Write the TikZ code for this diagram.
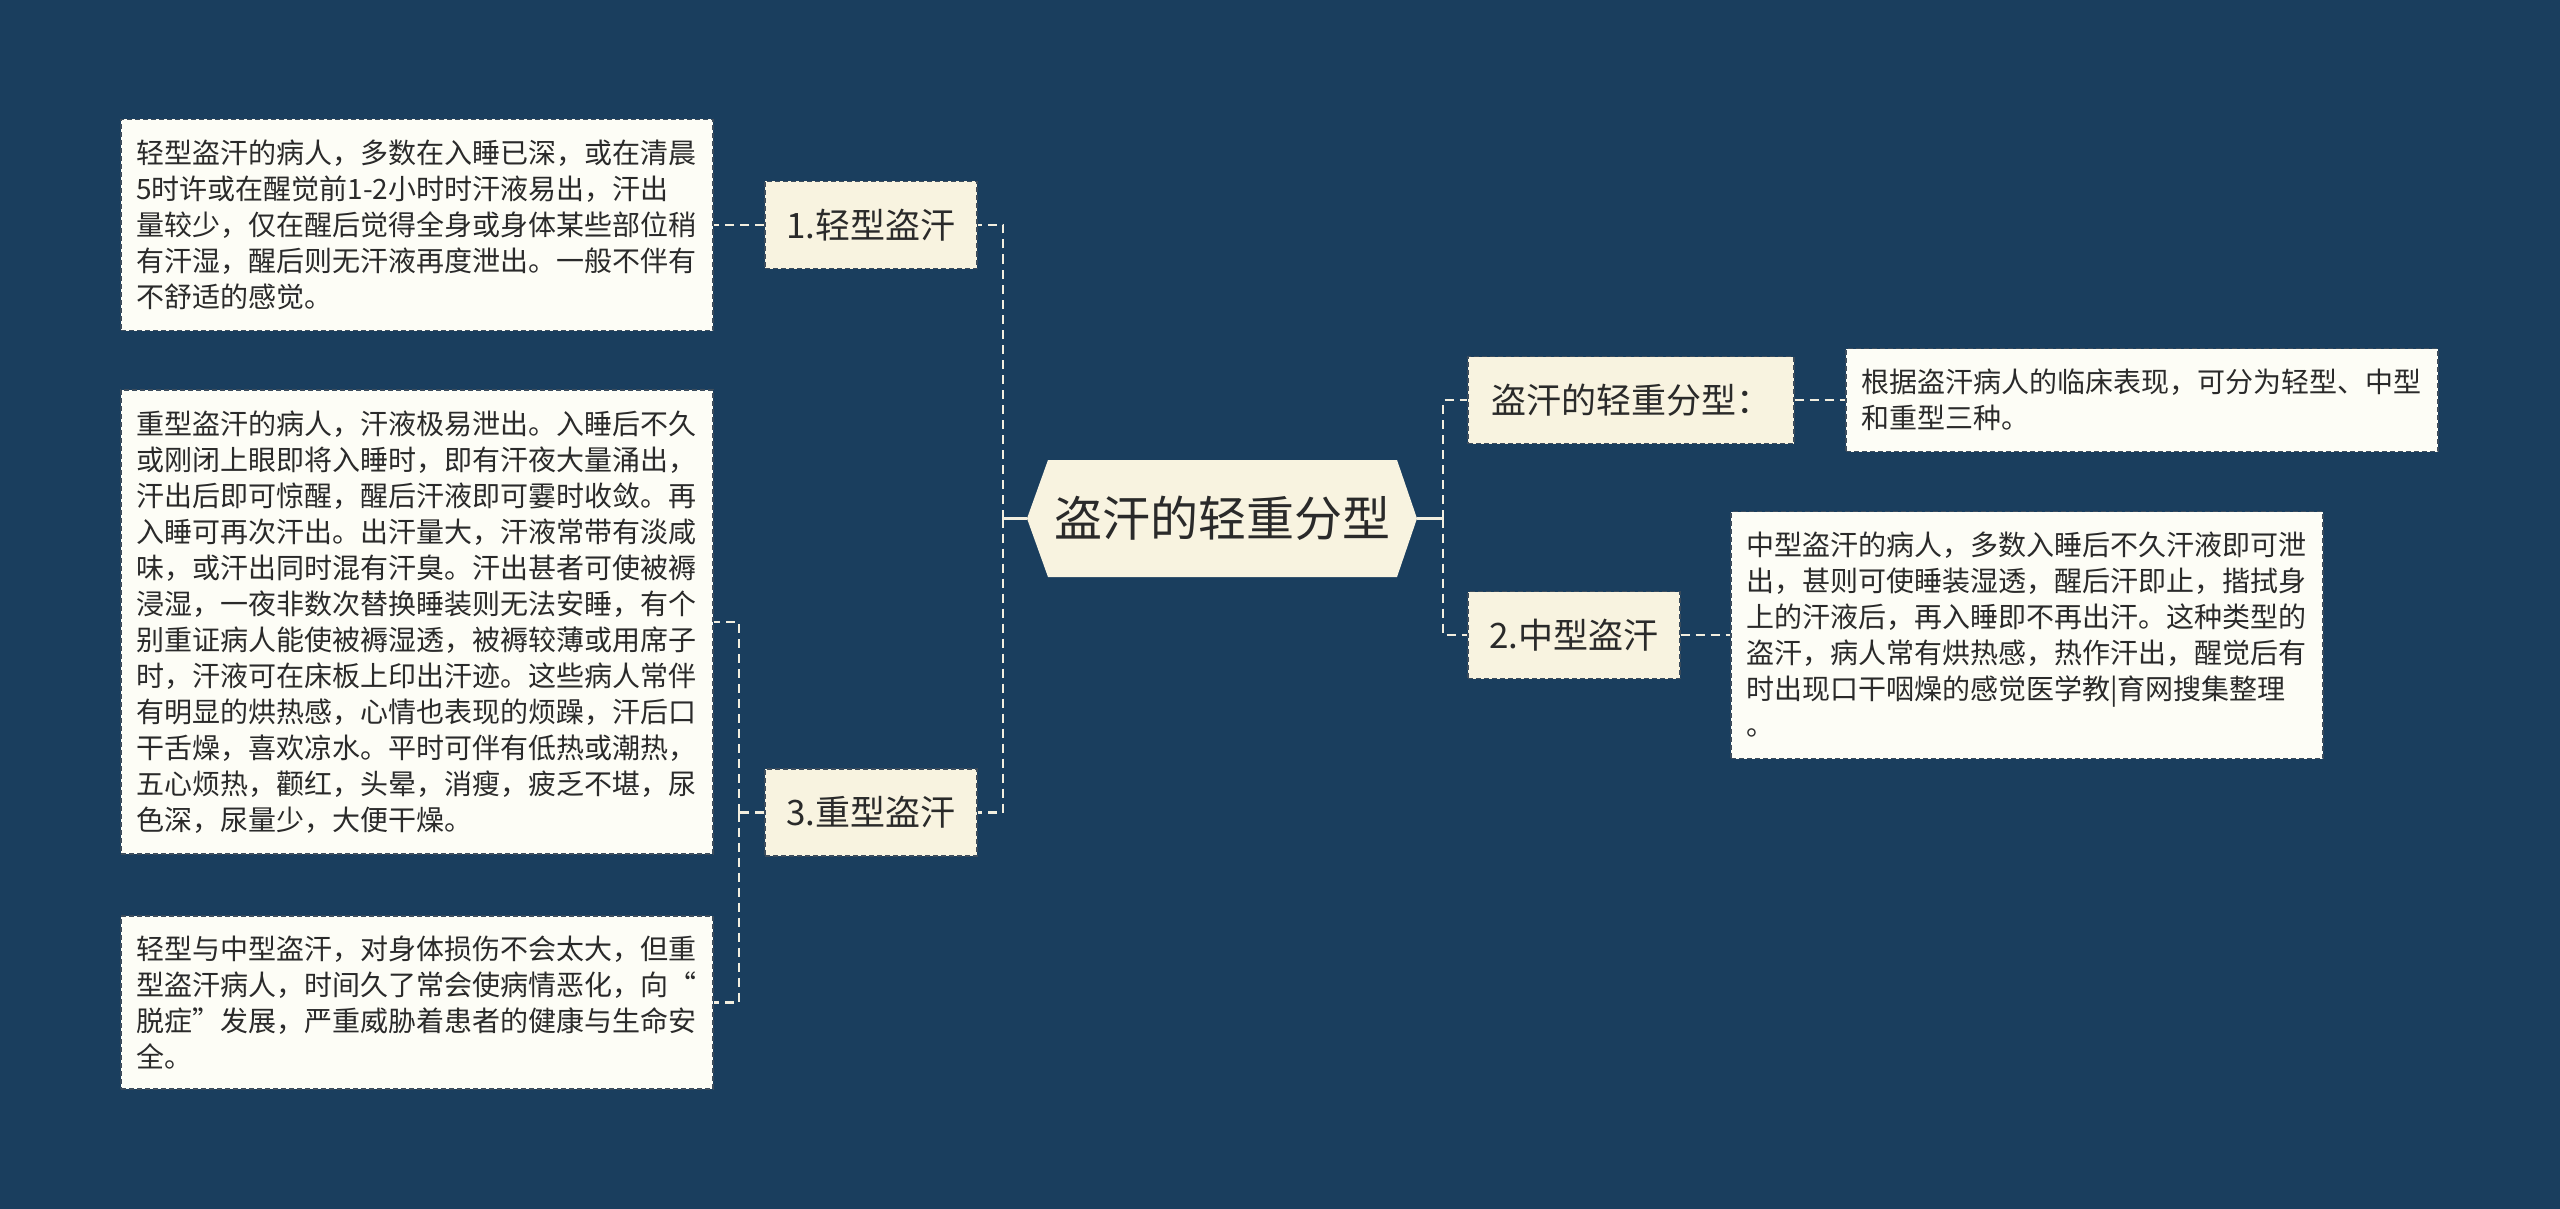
\documentclass[tikz,border=0pt]{standalone}
\usepackage{fontspec}
\newfontfamily\cjk{Noto Sans CJK SC}
\definecolor{bg}{HTML}{1A3E5E}
\definecolor{cream}{HTML}{F8F3E0}
\definecolor{paper}{HTML}{FDFDF6}
\definecolor{ink}{HTML}{2A2A2A}
\definecolor{edge}{HTML}{3C4C5C}
\definecolor{wire}{HTML}{F2EEDF}
\begin{document}
\begin{tikzpicture}[x=1pt,y=-1pt,
  topic/.style={fill=cream, draw=edge, line width=1.2pt, dash pattern=on 5pt off 3pt,
    text=ink, font=\cjk\fontsize{35}{40}\selectfont, minimum height=87pt, inner sep=0pt},
  leaf/.style={fill=paper, draw=edge, line width=1.2pt, dash pattern=on 5pt off 3pt,
    text=ink, font=\cjk\fontsize{28}{36}\selectfont, text width=562pt, align=left,
    inner xsep=15pt, inner ysep=0pt},
  roottext/.style={text=ink, font=\cjk\fontsize{48}{54}\selectfont, inner sep=0pt},
  conn/.style={draw=wire, line width=2.2pt, dash pattern=on 9pt off 6pt},
  stub/.style={draw=wire, line width=2.2pt},
]
\path[use as bounding box, fill=bg] (0,0) rectangle (2560,1209);

% central hexagon
\coordinate (rootL) at (1027,518.5);
\coordinate (rootR) at (1417,518.5);
\fill[cream] (rootL) -- (1048,460) -- (1397,460) -- (rootR) -- (1397,577) -- (1048,577) -- cycle;
\node[roottext] (root) at (1222,518.5) {盗汗的轻重分型};

% left topics
\node[topic, minimum width=212pt] (n1) at (871,225) {1.轻型盗汗};
\node[topic, minimum width=212pt] (n3) at (871,812.5) {3.重型盗汗};

% right topics
\node[topic, minimum width=326pt] (r1) at (1631,400) {盗汗的轻重分型：};
\node[topic, minimum width=212pt] (n2) at (1574,635) {2.中型盗汗};

% left leaves
\node[leaf, minimum height=211pt] (b1) at (417,225) {轻型盗汗的病人，多数在入睡已深，或在清晨\\5时许或在醒觉前1-2小时时汗液易出，汗出\\量较少，仅在醒后觉得全身或身体某些部位稍\\有汗湿，醒后则无汗液再度泄出。一般不伴有\\不舒适的感觉。};
\node[leaf, minimum height=464pt] (b2) at (417,622) {重型盗汗的病人，汗液极易泄出。入睡后不久\\或刚闭上眼即将入睡时，即有汗夜大量涌出，\\汗出后即可惊醒，醒后汗液即可霎时收敛。再\\入睡可再次汗出。出汗量大，汗液常带有淡咸\\味，或汗出同时混有汗臭。汗出甚者可使被褥\\浸湿，一夜非数次替换睡装则无法安睡，有个\\别重证病人能使被褥湿透，被褥较薄或用席子\\时，汗液可在床板上印出汗迹。这些病人常伴\\有明显的烘热感，心情也表现的烦躁，汗后口\\干舌燥，喜欢凉水。平时可伴有低热或潮热，\\五心烦热，颧红，头晕，消瘦，疲乏不堪，尿\\色深，尿量少，大便干燥。};
\node[leaf, minimum height=173pt] (b3) at (417,1002.5) {轻型与中型盗汗，对身体损伤不会太大，但重\\型盗汗病人，时间久了常会使病情恶化，向“\\脱症”发展，严重威胁着患者的健康与生命安\\全。};

% right leaves
\node[leaf, minimum height=103pt] (br1) at (2142,400) {根据盗汗病人的临床表现，可分为轻型、中型\\和重型三种。};
\node[leaf, minimum height=247pt] (br2) at (2027,635) {中型盗汗的病人，多数入睡后不久汗液即可泄\\出，甚则可使睡装湿透，醒后汗即止，揩拭身\\上的汗液后，再入睡即不再出汗。这种类型的\\盗汗，病人常有烘热感，热作汗出，醒觉后有\\时出现口干咽燥的感觉医学教|育网搜集整理\\。};

% connectors: root to left topics
\draw[stub] (rootL) -- (1003,518.5) coordinate (tl);
\draw[conn] (tl) |- (n1.east);
\draw[conn] (tl) |- (n3.east);
% root to right topics
\draw[stub] (rootR) -- (1443,518.5) coordinate (tr);
\draw[conn] (tr) |- (r1.west);
\draw[conn] (tr) |- (n2.west);
% topics to leaves
\draw[conn] (n1.west) -- (b1.east);
\coordinate (t3) at (739,812.5);
\draw[conn] (n3.west) -- (t3);
\draw[conn] (t3) |- (b2.east);
\draw[conn] (t3) |- (b3.east);
\draw[conn] (r1.east) -- (br1.west);
\draw[conn] (n2.east) -- (br2.west);
\end{tikzpicture}
\end{document}
